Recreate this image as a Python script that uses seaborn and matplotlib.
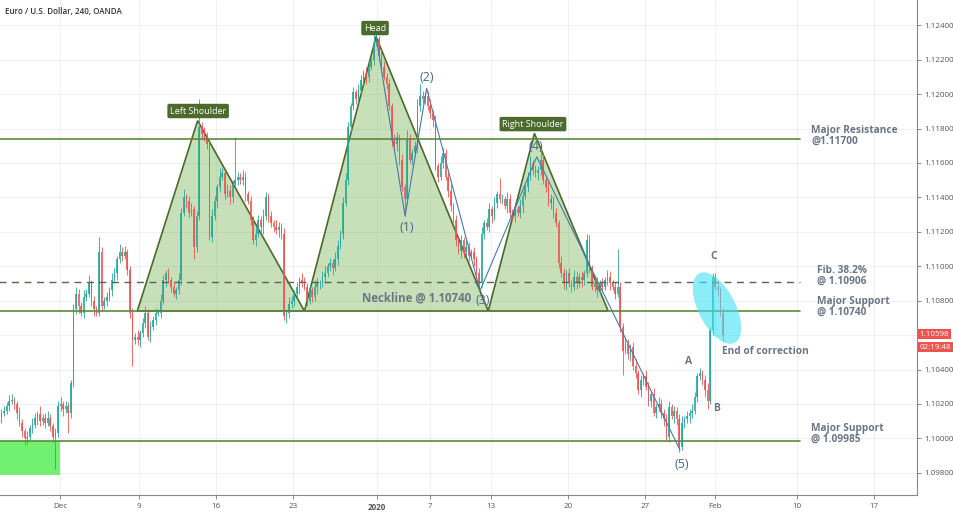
import matplotlib
matplotlib.use("Agg")
import matplotlib.pyplot as plt
from matplotlib.patches import Polygon, Ellipse, Rectangle
from matplotlib import transforms
import numpy as np
import pandas as pd
import seaborn as sns

# ---------------- data ----------------
first_open = 1.1012
closes = [
    1.1015,1.1016,1.1019,1.1022,1.1022,1.1020,1.1015,1.1009,1.1004,1.1000,1.1001,1.1006,1.1008,1.1012,1.1014,1.1010,1.1012,1.1009,1.1012,1.1007,
    1.1001,1.1003,1.1019,1.1020,1.1017,1.1019,1.1015,1.1032,1.1075,1.1084,1.1077,1.1073,1.1082,1.1084,1.1090,1.1080,1.1075,1.1073,1.1108,1.1077,
    1.1080,1.1082,1.1086,1.1092,1.1096,1.1104,1.1108,1.1106,1.1108,1.1098,1.1073,1.1057,1.1059,1.1057,1.1061,1.1067,1.1073,1.1059,1.1065,1.1069,
    1.1073,1.1073,1.1080,1.1092,1.1096,1.1092,1.1088,1.1084,1.1086,1.1092,1.1131,1.1140,1.1138,1.1131,1.1133,1.1111,1.1129,1.1181,1.1177,1.1175,
    1.1171,1.1117,1.1129,1.1138,1.1146,1.1152,1.1154,1.1142,1.1144,1.1140,1.1148,1.1150,1.1152,1.1150,1.1152,1.1142,1.1138,1.1127,1.1115,1.1119,
    1.1127,1.1123,1.1129,1.1140,1.1129,1.1125,1.1123,1.1121,1.1123,1.1119,1.1071,1.1073,1.1078,1.1080,1.1084,1.1088,1.1092,1.1091,1.1088,1.1080,
    1.1086,1.1082,1.1088,1.1090,1.1090,1.1094,1.1096,1.1100,1.1102,1.1099,1.1104,1.1112,1.1119,1.1137,1.1150,1.1181,1.1193,1.1201,1.1197,1.1202,
    1.1208,1.1212,1.1210,1.1216,1.1220,1.1230,1.1232,1.1222,1.1216,1.1210,1.1206,1.1193,1.1173,1.1171,1.1175,1.1162,1.1146,1.1139,1.1174,1.1162,
    1.1166,1.1170,1.1193,1.1199,1.1197,1.1199,1.1193,1.1189,1.1185,1.1158,1.1152,1.1160,1.1166,1.1152,1.1144,1.1135,1.1127,1.1115,1.1109,1.1115,
    1.1108,1.1111,1.1106,1.1108,1.1104,1.1096,1.1090,1.1119,1.1125,1.1123,1.1133,1.1129,1.1137,1.1142,1.1139,1.1139,1.1135,1.1139,1.1131,1.1129,
    1.1133,1.1131,1.1135,1.1141,1.1146,1.1152,1.1160,1.1156,1.1154,1.1156,1.1162,1.1150,1.1146,1.1137,1.1139,1.1131,1.1125,1.1102,1.1096,1.1090,
    1.1096,1.1090,1.1088,1.1094,1.1090,1.1094,1.1092,1.1096,1.1115,1.1099,1.1088,1.1090,1.1086,1.1090,1.1088,1.1092,1.1094,1.1090,1.1088,1.1084,
    1.1088,1.1065,1.1051,1.1055,1.1049,1.1053,1.1042,1.1038,1.1028,1.1034,1.1036,1.1030,1.1022,1.1026,1.1015,1.1018,1.1020,1.1015,1.1011,1.1001,
    1.1018,1.1013,1.1016,1.1011,1.0995,1.1009,1.1011,1.1013,1.1015,1.1016,1.1024,1.1036,1.1038,1.1034,1.1028,1.1022,1.1063,1.1094,1.1088,1.1086,
    1.1073,1.10598,
]
upper_wick_pips = [
    2,3,2,3,4,2,2,3,2,2,3,2,4,3,2,5,2,3,4,2,
    2,3,3,4,2,3,2,2,3,4,3,2,4,3,5,2,3,2,9,3,
    2,3,2,4,3,2,5,3,4,2,2,3,2,4,2,3,4,2,3,2,
    3,2,4,3,2,3,2,3,2,4,3,5,2,3,4,2,3,16,3,4,
    3,2,4,3,2,5,3,2,4,3,2,25,3,2,4,3,2,3,2,4,
    3,2,4,3,2,3,2,4,3,2,3,2,4,3,2,3,2,4,3,2,
    3,2,4,3,2,3,4,2,3,2,4,3,2,3,4,3,2,3,2,4,
    3,2,4,3,2,5,3,2,4,3,2,3,2,4,3,2,3,2,5,3,
    2,3,4,7,3,2,3,4,2,3,2,4,3,2,3,4,2,3,2,3,
    2,4,3,2,3,2,3,4,2,3,4,2,3,2,9,3,2,4,3,2,
    3,2,4,3,2,3,4,2,3,2,9,3,2,4,3,2,3,2,4,3,
    2,3,2,4,3,2,3,2,4,3,2,3,4,2,3,2,4,3,2,3,
    22,3,2,4,3,2,3,4,2,3,2,4,3,2,3,2,4,3,2,3,
    4,2,3,2,3,4,2,3,2,4,3,2,3,2,3,4,2,2,2,3,
    2,3,
]
lower_wick_pips = [
    3,2,2,3,2,3,4,2,3,4,3,2,3,2,4,3,2,3,2,3,
    3,19,2,3,4,2,12,3,2,3,4,2,3,2,2,3,4,2,2,3,
    2,3,2,3,2,4,2,3,2,3,3,15,2,3,4,2,3,2,3,2,
    3,2,3,2,4,2,3,2,3,2,3,2,4,3,2,7,3,2,3,2,
    3,2,3,2,4,3,2,3,2,4,3,2,3,2,3,4,2,3,2,3,
    2,3,4,2,3,2,3,2,4,3,2,4,3,2,3,2,4,3,2,3,
    2,3,2,4,3,2,3,2,3,4,2,3,2,3,2,3,4,2,3,2,
    3,2,4,3,2,3,2,3,4,2,3,2,3,2,4,3,2,10,3,2,
    3,2,4,3,2,3,2,3,4,2,3,2,3,2,4,3,2,3,2,4,
    3,2,3,2,4,3,4,2,3,2,3,4,2,3,2,3,2,4,3,2,
    3,2,3,4,2,3,2,3,2,4,3,2,3,2,4,3,2,3,2,3,
    4,2,3,2,3,2,4,3,2,3,2,3,4,2,3,2,3,4,2,3,
    2,3,14,2,3,4,2,3,2,4,3,2,3,4,2,3,2,3,4,2,
    3,2,4,3,3,2,3,2,4,3,2,3,2,3,4,5,2,3,2,3,
    2,3,
]

date_tick_pos = [22.8, 53.6, 83.6, 113.6, 146.3, 166.9, 190.7, 220.7, 250.7, 277.9, 309.9, 339.9]
date_tick_labels = ["Dec", "9", "16", "23", "2020", "7", "13", "20", "27", "Feb", "10", "17"]
price_ticks = [1.098, 1.100, 1.102, 1.104, 1.106, 1.108, 1.110, 1.112, 1.114, 1.116, 1.118, 1.120, 1.122, 1.124]

# head & shoulders pattern (candle index, price)
left_shoulder = [(52.9, 1.1074), (76.4, 1.11846), (118.0, 1.1074)]
head = [(118.0, 1.1074), (145.9, 1.12334), (189.6, 1.1074)]
right_shoulder = [(189.6, 1.1074), (207.6, 1.11772), (236.3, 1.1074)]

# Elliott-type wave path
wave_x = [145.9, 157.2, 165.6, 186.4, 208.5, 264.3]
wave_p = [1.12334, 1.11292, 1.12034, 1.10858, 1.11636, 1.09932]
wave_labels = ["(1)", "(2)", "(3)", "(4)", "(5)"]
wave_label_x = [158.0, 165.8, 187.6, 208.2, 265.1]
wave_label_p = [1.11228, 1.12094, 1.10800, 1.11693, 1.09851]

level_resistance = 1.11739
level_fib = 1.10906
level_support = 1.10740
level_low_support = 1.09986
level_end_x = 311

last_price = 1.10598
countdown = "02:19:48"

# ---------------- figure ----------------
sns.set_theme(style="white")
plt.rcParams["font.family"] = ["Open Sans", "DejaVu Sans"]

fig = plt.figure(figsize=(9.54, 5.12), dpi=100)
ax = fig.add_axes([0.0, 17 / 512, 917 / 954, 495 / 512])

n = len(closes)
assert len(upper_wick_pips) == n and len(lower_wick_pips) == n
opens = [first_open] + closes[:-1]
df = pd.DataFrame({"i": np.arange(n), "open": opens, "close": closes,
                   "up": upper_wick_pips, "dn": lower_wick_pips})
df["top"] = df[["open", "close"]].max(axis=1)
df["bot"] = df[["open", "close"]].min(axis=1)
df["high"] = df["top"] + df["up"] * 0.0001
df["low"] = df["bot"] - df["dn"] * 0.0001
df["bull"] = df["close"] >= df["open"]

GREEN = "#26a69a"
RED = "#ef5350"

# grid
for xt in date_tick_pos:
    ax.axvline(xt, color="#eef0f4", lw=0.7, zorder=0)
for pt in price_ticks:
    ax.axhline(pt, color="#eef0f4", lw=0.7, zorder=0)

# green box bottom-left
ax.add_patch(Rectangle((-5, 1.0979), 22.8 + 5, level_low_support - 1.0979,
                       facecolor="#72f072", edgecolor="none", zorder=1))

# pattern triangles
for tri in (left_shoulder, head, right_shoulder):
    ax.add_patch(Polygon(tri, closed=True, facecolor=(0.40, 0.67, 0.24, 0.36),
                         edgecolor="#4a6a2a", lw=1.2, zorder=2))

# candles
for bull, color in ((True, GREEN), (False, RED)):
    d = df[df["bull"] == bull]
    ax.vlines(d["i"], d["low"], d["high"], color=color, lw=0.7, alpha=0.85, zorder=3)
    ax.bar(d["i"], np.maximum(d["top"] - d["bot"], 0.00003), bottom=d["bot"],
           width=0.62, color=color, alpha=0.85, linewidth=0, zorder=3)

# horizontal levels
ax.plot([-5, level_end_x], [level_resistance] * 2, color="#5c8a3a", lw=1.2, zorder=4)
ax.plot([-5, level_end_x], [level_support] * 2, color="#5c8a3a", lw=1.2, zorder=4)
ax.plot([-5, level_end_x], [level_low_support] * 2, color="#5c8a3a", lw=1.2, zorder=4)
ax.plot([-5, level_end_x], [level_fib] * 2, color="#5a6450", lw=1.0, ls=(0, (5, 4)), zorder=4)

# wave path
sns.lineplot(x=wave_x, y=wave_p, ax=ax, sort=False, color="#4a78a8", lw=0.8, zorder=5)

wave_color = "#45688c"
for lab, wx, wp in zip(wave_labels, wave_label_x, wave_label_p):
    ax.text(wx, wp, lab, color=wave_color, fontsize=9, ha="center", va="center", zorder=7)

# cyan ellipse (size in inches around a data point)
ell_tr = fig.dpi_scale_trans + transforms.ScaledTranslation(278.7, 1.10757, ax.transData)
ax.add_patch(Ellipse((0, 0), 0.78, 0.37, angle=117, transform=ell_tr,
                     facecolor=(0.25, 0.88, 0.95, 0.6), edgecolor="none", zorder=6))

# pattern labels
box_kw = dict(boxstyle="round,pad=0.3,rounding_size=0.2", facecolor="#4b6a2b", edgecolor="none")
for txt, x, p in (("Left Shoulder", 76.6, 1.11902), ("Head", 145.5, 1.12384), ("Right Shoulder", 207.0, 1.11826)):
    ax.text(x, p, txt, color="white", fontsize=6.5, ha="center", va="center", bbox=box_kw, zorder=8)

gray = "#6b7585"
ax.text(161.5, 1.10816, "Neckline @ 1.10740", color=gray, fontsize=8.3, fontweight="bold",
        ha="center", va="center", zorder=7)
side_fs = 7.3
ax.text(315.5, 1.11757, "Major Resistance\n@1.11700", color=gray, fontsize=side_fs, fontweight="bold",
        ha="left", va="center", linespacing=0.95, zorder=7)
ax.text(317.5, 1.10943, "Fib. 38.2%\n@ 1.10906", color=gray, fontsize=side_fs, fontweight="bold",
        ha="left", va="center", linespacing=0.95, zorder=7)
ax.text(317.5, 1.10763, "Major Support\n@ 1.10740", color=gray, fontsize=side_fs, fontweight="bold",
        ha="left", va="center", linespacing=0.95, zorder=7)
ax.text(315.5, 1.10025, "Major Support\n@ 1.09985", color=gray, fontsize=side_fs, fontweight="bold",
        ha="left", va="center", linespacing=0.95, zorder=7)
ax.text(280.7, 1.10502, "End of correction", color=gray, fontsize=side_fs, fontweight="bold",
        ha="left", va="center", zorder=7)
for txt, x, p in (("A", 267.8, 1.10444), ("B", 278.7, 1.10171), ("C", 277.6, 1.11054)):
    ax.text(x, p, txt, color=gray, fontsize=7.5, fontweight="bold", ha="center", va="center", zorder=7)

# title
ax.text(0.005, 0.986, "Euro / U.S. Dollar, 240, OANDA", transform=ax.transAxes,
        fontsize=5.8, color="#333333", fontweight="semibold", ha="left", va="top")

# axes
ax.set_xlim(-0.58, 356.6)
ax.set_ylim(1.09671, 1.12547)
ax.yaxis.tick_right()
ax.set_yticks(price_ticks)
# the 1.10600 label sits under the live price tag, as on the original chart
ax.set_yticklabels(["" if abs(p - 1.106) < 1e-9 else f"{p:.5f}" for p in price_ticks])
ax.set_xticks(date_tick_pos)
ax.set_xticklabels(date_tick_labels)
for lab in ax.get_xticklabels():
    if lab.get_text() == "2020":
        lab.set_fontweight("bold")
ax.tick_params(axis="y", which="both", right=True, length=3, width=0.6, color="#777777",
               labelsize=5.8, labelcolor="#555555", pad=2)
ax.tick_params(axis="x", which="both", bottom=True, length=3, width=0.6, color="#777777",
               labelsize=5.8, labelcolor="#555555", pad=3)
for s in ("top", "left"):
    ax.spines[s].set_visible(False)
for s in ("right", "bottom"):
    ax.spines[s].set_visible(True)
    ax.spines[s].set_color("#888888")
    ax.spines[s].set_linewidth(0.8)

# price tag on the axis
tag_tr = transforms.blended_transform_factory(ax.transAxes, ax.transData)
tag_kw = dict(boxstyle="square,pad=0.18", facecolor="#ef5350", edgecolor="none")
ax.text(1.003, 1.10605, f"{last_price:.5f}", transform=tag_tr, color="white", fontsize=5.8,
        ha="left", va="center", bbox=tag_kw, clip_on=False, zorder=10)
ax.text(1.003, 1.10530, countdown, transform=tag_tr, color="white", fontsize=5.8,
        ha="left", va="center", bbox=tag_kw, clip_on=False, zorder=10)

fig.savefig("out.png", dpi=100)
